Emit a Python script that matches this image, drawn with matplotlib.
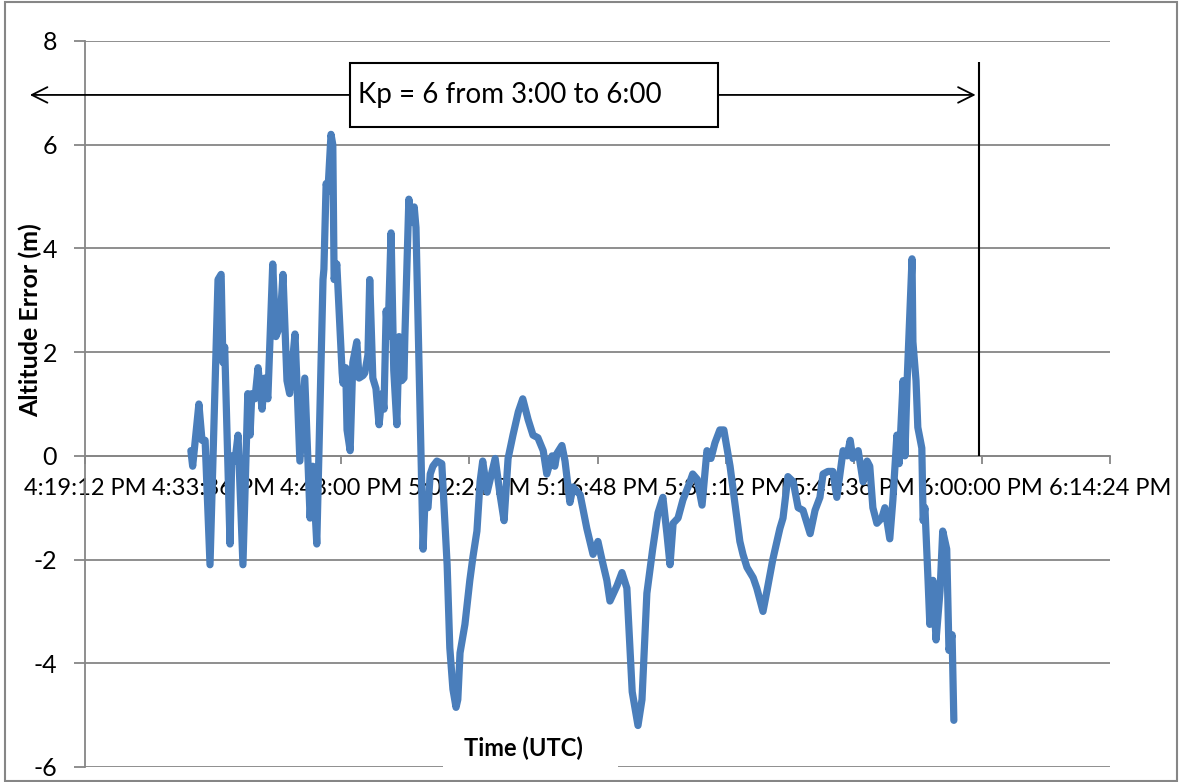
import matplotlib
matplotlib.use('Agg')
import matplotlib.pyplot as plt
from matplotlib.patches import Rectangle

# time in minutes after 4:00 PM (UTC), altitude error in metres
minutes = [31.1, 31.3, 32.0, 32.35, 32.7, 33.25, 34.15, 34.5, 34.7, 34.9,
           35.5, 35.7, 36.05, 36.4, 36.95, 37.5, 37.75, 37.95, 38.3, 38.65,
           39.1, 39.4, 39.75, 40.3, 40.65, 41.1, 41.45, 41.9, 42.2, 42.8,
           43.0, 43.35, 43.9, 44.5, 44.8, 45.25, 45.95, 46.05, 46.3, 46.5,
           46.85, 47.05, 47.2, 47.5, 48.1, 48.2, 48.5, 48.65, 49.0, 49.3,
           49.75, 50.0, 50.45, 50.65, 51.0, 51.2, 51.55, 51.9, 52.25, 52.6,
           52.8, 53.05, 53.25, 53.6, 53.9, 54.25, 54.5, 54.8, 55.05, 55.15,
           55.6, 55.85, 56.2, 56.4, 57.2, 57.4, 57.75, 58.0, 58.3, 58.75,
           59.3, 59.9, 60.2, 60.55, 60.9, 61.1, 61.35, 61.9, 62.45, 62.8,
           63.25, 63.6, 63.9, 64.4, 64.95, 65.3, 65.85, 66.3, 66.75, 67.3,
           67.9, 68.4, 69.0, 69.55, 70.1, 70.7, 71.1, 71.7, 72.0, 72.25,
           72.8, 73.15, 73.7, 74.05, 74.85, 75.6, 76.3, 76.85, 77.3, 77.85,
           78.2, 79.0, 79.55, 80.1, 80.7, 81.0, 81.35, 81.8, 82.35, 83.0,
           83.6, 84.15, 84.6, 84.95, 85.3, 85.85, 86.4, 87.2, 87.5, 88.0,
           88.55, 89.1, 89.55, 90.0, 90.55, 91.0, 91.7, 92.5, 92.8, 93.15,
           93.6, 94.3, 94.7, 95.4, 95.85, 96.5, 97.3, 97.65, 98.2, 98.8,
           99.35, 99.9, 100.7, 101.25, 101.8, 102.15, 102.7, 103.25, 103.7, 104.4,
           104.85, 105.2, 105.5, 106.1, 106.65, 107.1, 107.4, 107.75, 108.2, 108.75,
           109.1, 109.65, 110.0, 110.45, 110.7, 111.15, 111.35, 111.6, 112.15, 112.25,
           112.6, 112.8, 113.25, 113.4, 113.6, 113.95, 114.15, 114.5, 114.85, 115.3,
           115.6, 116.05, 116.3, 116.65, 116.85]
altitude = [0.1, -0.2, 1.0, 0.3, 0.3, -2.1, 3.4, 3.5, 1.8, 2.1,
            -1.7, 0.0, -0.1, 0.4, -2.1, 1.2, 0.4, 1.2, 1.1, 1.7,
            0.9, 1.5, 1.1, 3.7, 2.3, 2.5, 3.5, 1.45, 1.2, 2.35,
            1.5, -0.1, 1.5, -1.2, -0.2, -1.7, 3.4, 3.6, 5.25, 5.1,
            6.2, 6.0, 3.4, 3.7, 1.6, 1.4, 1.7, 0.5, 0.1, 1.8,
            2.2, 1.5, 1.55, 1.6, 1.95, 3.4, 1.5, 1.3, 0.6, 1.2,
            0.9, 2.8, 2.3, 4.3, 1.65, 0.6, 2.3, 1.45, 1.5, 2.3,
            4.95, 4.5, 4.8, 4.4, -1.8, -0.9, -1.0, -0.35, -0.2, -0.1,
            -0.15, -2.1, -3.7, -4.5, -4.85, -4.7, -3.8, -3.25, -2.4, -1.95,
            -1.45, -0.5, -0.1, -0.7, -0.3, -0.05, -0.75, -1.25, -0.05, 0.4,
            0.85, 1.1, 0.7, 0.4, 0.35, 0.1, -0.35, 0.0, -0.2, 0.05,
            0.2, -0.1, -0.9, -0.6, -0.75, -1.4, -1.9, -1.65, -2.0, -2.4,
            -2.8, -2.5, -2.25, -2.55, -4.55, -4.85, -5.2, -4.7, -2.65, -1.8,
            -1.1, -0.8, -1.5, -2.1, -1.3, -1.2, -0.85, -0.5, -0.35, -0.45,
            -0.95, 0.1, -0.05, 0.25, 0.5, 0.5, -0.2, -1.25, -1.65, -1.9,
            -2.15, -2.35, -2.55, -3.0, -2.6, -2.0, -1.4, -1.2, -0.4, -0.5,
            -1.0, -1.05, -1.5, -1.05, -0.8, -0.35, -0.3, -0.3, -0.8, 0.1,
            0.0, 0.3, -0.05, 0.1, -0.5, -0.1, -0.2, -1.0, -1.3, -1.2,
            -1.0, -1.6, -0.85, 0.4, -0.15, 1.45, 0.0, 1.45, 3.8, 2.2,
            1.45, 0.55, 0.15, -1.25, -1.0, -2.4, -3.25, -2.4, -3.55, -2.6,
            -1.45, -1.8, -3.75, -3.45, -5.1]

tick_minutes = [19.2, 33.6, 48.0, 62.4, 76.8, 91.2, 105.6, 120.0, 134.4]
tick_labels = ['4:19:12 PM', '4:33:36 PM', '4:48:00 PM', '5:02:24 PM', '5:16:48 PM',
               '5:31:12 PM', '5:45:36 PM', '6:00:00 PM', '6:14:24 PM']
y_ticks = [-6, -4, -2, 0, 2, 4, 6, 8]

kp_text = 'Kp = 6 from 3:00 to 6:00'
kp_end = 119.7   # 6:00 PM

plt.rcParams['font.family'] = ['Lato', 'DejaVu Sans']
plt.rcParams['axes.unicode_minus'] = False

W, H = 1179, 782
fig = plt.figure(figsize=(W / 100, H / 100), dpi=100)
ax = fig.add_axes([85 / W, 15 / H, 1025 / W, 726 / H])

grey = '#868686'
ax.plot(minutes, altitude, color='#4a7ebb', lw=5.2,
        solid_joinstyle='round', solid_capstyle='round', zorder=3)

ax.set_xlim(tick_minutes[0], tick_minutes[-1])
ax.set_ylim(y_ticks[0], y_ticks[-1])
ax.set_yticks(y_ticks)
ax.set_xticks(tick_minutes)
ax.set_xticklabels(tick_labels)
ax.grid(axis='y', color=grey, lw=1.3)
ax.set_axisbelow(True)

ax.spines['top'].set_visible(False)
ax.spines['right'].set_visible(False)
ax.spines['bottom'].set_position(('data', 0))
for s in ('left', 'bottom'):
    ax.spines[s].set_color(grey)
    ax.spines[s].set_linewidth(1.3)
ax.tick_params(axis='x', direction='out', length=6, width=1.3, color=grey,
               labelsize=17, pad=10)
ax.tick_params(axis='y', direction='out', length=8, width=1.3, color=grey,
               labelsize=18, pad=12)

# Kp annotation: box, two arrows, end line at 6:00
ax.vlines(kp_end, 0, 7.6, color='black', lw=1.5, zorder=4)
ax.add_patch(Rectangle((49.0, 6.34), 41.3, 1.24, facecolor='white',
                       edgecolor='black', lw=1.5, zorder=5))
ax.text(49.9, 6.96, kp_text, fontsize=20, ha='left', va='center', zorder=6)
ax.annotate('', xy=(13.0, 6.96), xytext=(49.0, 6.96), annotation_clip=False,
            arrowprops=dict(arrowstyle='->', lw=1.3, color='black',
                            mutation_scale=28, shrinkA=0, shrinkB=0))
ax.annotate('', xy=(kp_end - 0.4, 6.96), xytext=(90.3, 6.96), annotation_clip=False,
            arrowprops=dict(arrowstyle='->', lw=1.3, color='black',
                            mutation_scale=28, shrinkA=0, shrinkB=0))

# axis titles (Excel-style, x title sits in a white box over the plot)
fig.add_artist(Rectangle((443 / W, 0), 175 / W, 54 / H, transform=fig.transFigure,
                         facecolor='white', edgecolor='none', zorder=5))
fig.text(523 / W, 1 - 748 / H, 'Time (UTC)', fontsize=17, fontweight='bold',
         ha='center', va='center', zorder=6)
fig.text(30 / W, 1 - 320 / H, 'Altitude Error (m)', fontsize=18, fontweight='bold',
         rotation=90, ha='center', va='center')

# chart area border
fig.add_artist(Rectangle((5 / W, 1 / H), 1172 / W, 779 / H, transform=fig.transFigure,
                         fill=False, edgecolor=grey, lw=1.5, zorder=10))

fig.savefig('out.png', dpi=100)
